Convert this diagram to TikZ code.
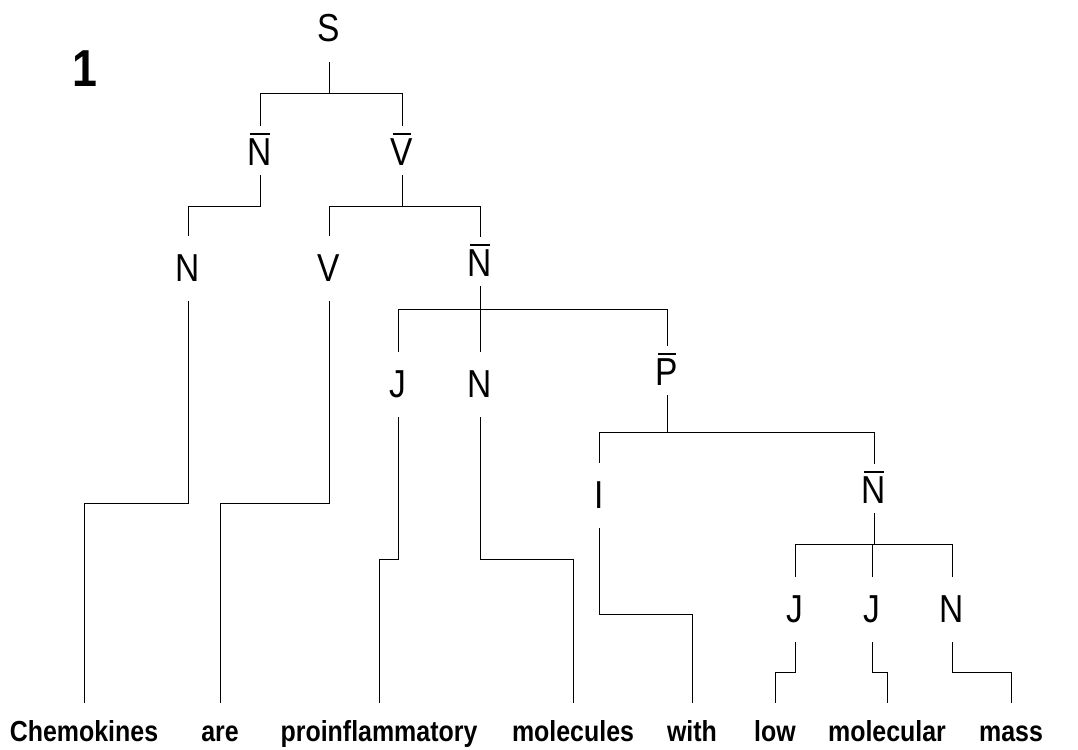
\documentclass[tikz,border=0pt]{standalone}
\usepackage{fontspec}
\setmainfont{Liberation Sans}[FakeStretch=0.86]
\usepackage{tikz}
\usetikzlibrary{positioning}

% bar over a category letter
\newcommand\ovl[1]{\setbox0\hbox{#1}\vbox{\offinterlineskip\moveright2.5pt\vbox{\hrule width\dimexpr\wd0-5pt\relax height 2pt}\kern3.5pt\box0}}

\tikzset{
cat/.style={inner sep=0pt, anchor=base, font=\fontsize{39}{40}\selectfont, text height=45pt, text depth=20pt},
catbar/.style={cat, text height=39pt, text depth=10pt},
word/.style={inner sep=0pt, anchor=base, font=\fontsize{29}{30}\selectfont\bfseries, text height=38pt, text depth=0pt},
branch/.style={draw=black, line width=1pt}
}

\begin{document}
\begin{tikzpicture}[x=1pt,y=-1pt]
\useasboundingbox (0,0) rectangle (1078,749);

%Sentence number
\node[inner sep=0pt, anchor=base, font=\fontsize{52}{54}\selectfont\bfseries] (num) at (85,87) {1};

%Categories
\node[cat] (S) at (329,42) {S};
\node[catbar] (Nb1) at (260,165) {\ovl{N}};
\node[catbar] (Vb) at (402,165) {\ovl{V}};
\node[cat] (N1) at (188,281) {N};
\node[cat] (V1) at (329,281) {V};
\node[catbar] (Nb2) at (480,276) {\ovl{N}};
\node[cat] (J1) at (398,397) {J};
\node[cat] (N2) at (480,397) {N};
\node[catbar] (Pb) at (667,385) {\ovl{P}};
\node[cat] (I1) at (599,508) {I};
\node[catbar] (Nb3) at (874,503) {\ovl{N}};
\node[cat] (J2) at (795,622) {J};
\node[cat] (J3) at (872,622) {J};
\node[cat] (N3) at (952,622) {N};

%Words
\node[word] (w1) at (84,741) {Chemokines};
\node[word] (w2) at (220,741) {are};
\node[word] (w3) at (379,741) {proinflammatory};
\node[word] (w4) at (573,741) {molecules};
\node[word] (w5) at (692,741) {with};
\node[word] (w6) at (775,741) {low};
\node[word] (w7) at (887,741) {molecular};
\node[word] (w8) at (1011,741) {mass};

%Junctions
\coordinate (jS) at (329,94);
\coordinate (jNb1) at (260,206);
\coordinate (jVb) at (402,206);
\coordinate (jNb2) at (480,309);
\coordinate (jPb) at (667,432);
\coordinate (jNb3) at (874,544);

%Branches
\draw[branch] (S.south) -- (jS);
\draw[branch] (jS) -| (Nb1.north);
\draw[branch] (jS) -| (Vb.north);
\draw[branch] (Nb1.south) -- (jNb1) -| (N1.north);
\draw[branch] (Vb.south) -- (jVb) -| (V1.north);
\draw[branch] (jVb) -| (Nb2.north);
\draw[branch] (Nb2.south) -- (N2.north);
\draw[branch] (jNb2) -| (J1.north);
\draw[branch] (jNb2) -| (Pb.north);
\draw[branch] (Pb.south) -- (jPb) -| (I1.north);
\draw[branch] (jPb) -| (Nb3.north);
\draw[branch] (Nb3.south) -- (jNb3) -| (J2.north);
\draw[branch] (jNb3) -| (J3.north);
\draw[branch] (jNb3) -| (N3.north);

%Leaves
\draw[branch] (N1.south) -- (N1.south |- 0,503) -| (w1.north);
\draw[branch] (V1.south) -- (V1.south |- 0,503) -| (w2.north);
\draw[branch] (J1.south) -- (J1.south |- 0,559) -| (w3.north);
\draw[branch] (N2.south) -- (N2.south |- 0,559) -| (w4.north);
\draw[branch] (I1.south) -- (I1.south |- 0,614) -| (w5.north);
\draw[branch] (J2.south) -- (J2.south |- 0,672) -| (w6.north);
\draw[branch] (J3.south) -- (J3.south |- 0,672) -| (w7.north);
\draw[branch] (N3.south) -- (N3.south |- 0,672) -| (w8.north);
\end{tikzpicture}
\end{document}
